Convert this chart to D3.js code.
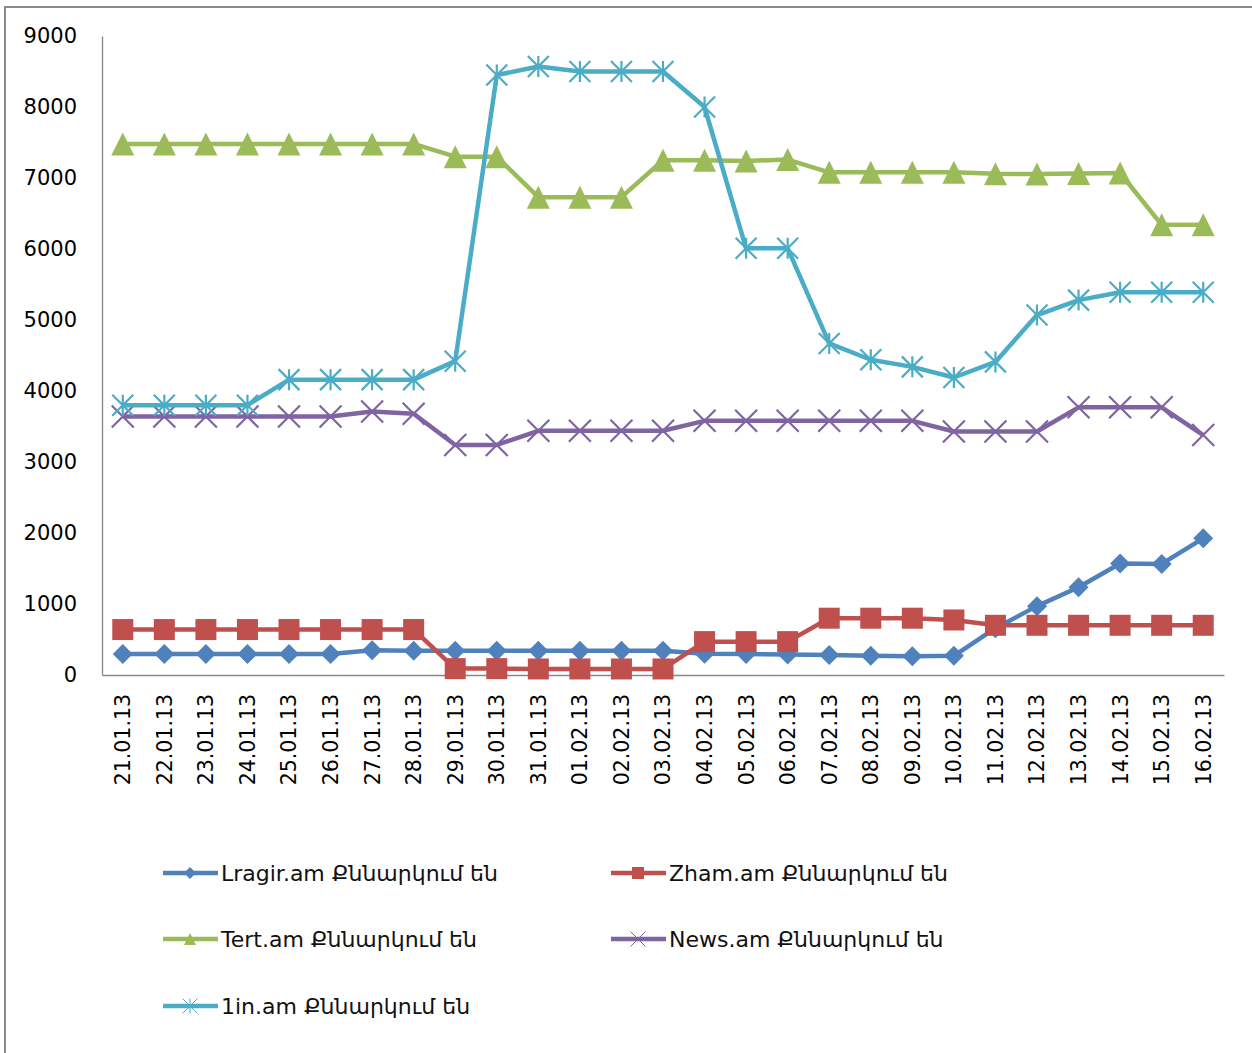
<!DOCTYPE html>
<html>
<head>
<meta charset="utf-8">
<script src="https://cdn.jsdelivr.net/npm/d3@7"></script>
<style>
  html, body { margin: 0; padding: 0; background: #fff; }
  svg { display: block; }
</style>
</head>
<body>
<svg id="chart" width="1252" height="1053"></svg>
<script>
// Dates on the category axis
const dates = ["21.01.13","22.01.13","23.01.13","24.01.13","25.01.13","26.01.13","27.01.13",
  "28.01.13","29.01.13","30.01.13","31.01.13","01.02.13","02.02.13","03.02.13","04.02.13",
  "05.02.13","06.02.13","07.02.13","08.02.13","09.02.13","10.02.13","11.02.13","12.02.13",
  "13.02.13","14.02.13","15.02.13","16.02.13"];

// Daily counts per site
const lragir = [295,295,295,295,295,295,350,340,340,340,340,340,340,340,300,295,290,280,270,265,270,660,970,1235,1570,1565,1925];
const zham   = [640,640,640,640,640,640,640,640,90,90,85,85,85,85,470,470,470,800,800,800,775,700,700,700,700,700,700];
const tert   = [7480,7480,7480,7480,7480,7480,7480,7480,7300,7300,6730,6730,6730,7250,7250,7240,7260,7080,7080,7080,7080,7060,7055,7065,7070,6340,6340];
const news   = [3640,3640,3640,3640,3640,3640,3710,3680,3240,3240,3440,3440,3440,3440,3580,3580,3580,3580,3580,3580,3430,3430,3430,3770,3770,3770,3380];
const onein  = [3800,3800,3800,3800,4160,4160,4160,4160,4420,8450,8570,8500,8500,8500,8000,6010,6010,4670,4440,4340,4190,4410,5070,5280,5390,5390,5390];

const seriesNames = ["Lragir.am Քննարկում են","Zham.am Քննարկում են","Tert.am Քննարկում են","News.am Քննարկում են","1in.am Քննարկում են"];
const yTicks = [0,1000,2000,3000,4000,5000,6000,7000,8000,9000];

const series = [
  {name: seriesNames[0], values: lragir, color: "#4F81BD", marker: "diamond"},
  {name: seriesNames[1], values: zham,   color: "#C0504D", marker: "square"},
  {name: seriesNames[2], values: tert,   color: "#9BBB59", marker: "triangle"},
  {name: seriesNames[3], values: news,   color: "#8064A2", marker: "x"},
  {name: seriesNames[4], values: onein,  color: "#4BACC6", marker: "star"}
];

const svg = d3.select("#chart");
const axisFont = "'DejaVu Sans', sans-serif";

// Frame edges (top and left)
svg.append("line").attr("x1", 4).attr("x2", 1252).attr("y1", 7).attr("y2", 7)
  .attr("stroke", "#8a8a8a").attr("stroke-width", 2);
svg.append("line").attr("x1", 5).attr("x2", 5).attr("y1", 6).attr("y2", 1053)
  .attr("stroke", "#8a8a8a").attr("stroke-width", 2);

const plot = {left: 102, right: 1224, top: 36, bottom: 675};

const x = d3.scaleBand().domain(dates).range([plot.left, plot.right]);
const y = d3.scaleLinear().domain([0, 9000]).range([plot.bottom, plot.top]);
const cx = d => x(d) + x.bandwidth() / 2;

// Y axis
const yAxis = svg.append("g").attr("transform", `translate(${plot.left},0)`)
  .call(d3.axisLeft(y).tickValues(yTicks).tickSize(0).tickPadding(25).tickFormat(d3.format("d")));
yAxis.select(".domain").attr("stroke", "#868686").attr("stroke-width", 1.3);
yAxis.selectAll("text").attr("font-family", axisFont).attr("font-size", 21).attr("fill", "#000");

// X axis with rotated date labels
const xAxis = svg.append("g").attr("transform", `translate(0,${plot.bottom})`)
  .call(d3.axisBottom(x).tickSize(0).tickPadding(0));
xAxis.select(".domain").attr("stroke", "#868686").attr("stroke-width", 1.3);
xAxis.selectAll("text")
  .attr("font-family", axisFont).attr("font-size", 20.5).attr("fill", "#000")
  .attr("transform", "rotate(-90)")
  .attr("text-anchor", "end")
  .attr("x", -19).attr("y", 0).attr("dy", "0.36em");

// Marker shapes
function drawMarker(g, type, color, s, sw) {
  const h = s / 2;
  if (type === "diamond") {
    g.append("path").attr("d", `M0,${-h}L${h},0L0,${h}L${-h},0Z`).attr("fill", color);
  } else if (type === "square") {
    g.append("rect").attr("x", -h).attr("y", -h).attr("width", s).attr("height", s).attr("fill", color);
  } else if (type === "triangle") {
    g.append("path").attr("d", `M0,${-h}L${h},${h}L${-h},${h}Z`).attr("fill", color);
  } else if (type === "x") {
    g.append("path").attr("d", `M${-h},${-h}L${h},${h}M${-h},${h}L${h},${-h}`)
      .attr("stroke", color).attr("stroke-width", sw).attr("fill", "none");
  } else if (type === "star") {
    g.append("path").attr("d", `M${-h},${-h}L${h},${h}M${-h},${h}L${h},${-h}M0,${-h}L0,${h}`)
      .attr("stroke", color).attr("stroke-width", sw).attr("fill", "none");
  }
}

const markerSize = {diamond: 20, square: 21, triangle: 23, x: 22, star: 21};

const line = d3.line().x((d, i) => cx(dates[i])).y(d => y(d));

series.forEach(s => {
  svg.append("path").datum(s.values)
    .attr("d", line).attr("fill", "none")
    .attr("stroke", s.color).attr("stroke-width", 4.5).attr("stroke-linejoin", "round");
  s.values.forEach((v, i) => {
    const g = svg.append("g").attr("transform", `translate(${cx(dates[i])},${y(v)})`);
    drawMarker(g, s.marker, s.color, markerSize[s.marker], 2.2);
  });
});

// Legend
const legendPos = [[163, 873], [611, 873], [163, 939], [611, 939], [163, 1006]];
series.forEach((s, i) => {
  const [lx, ly] = legendPos[i];
  const g = svg.append("g").attr("transform", `translate(${lx},${ly})`);
  g.append("line").attr("x1", 0).attr("x2", 55).attr("y1", 0).attr("y2", 0)
    .attr("stroke", s.color).attr("stroke-width", 4.5);
  const mg = g.append("g").attr("transform", "translate(27,0)");
  drawMarker(mg, s.marker, s.color, s.marker === "x" || s.marker === "star" ? 15 : 12, 1);
  g.append("text").attr("x", 58).attr("y", 0).attr("dy", "0.36em")
    .attr("font-family", "'DejaVu Sans', sans-serif")
    .attr("font-size", 22).attr("fill", "#111")
    .text(s.name);
});
</script>
</body>
</html>
